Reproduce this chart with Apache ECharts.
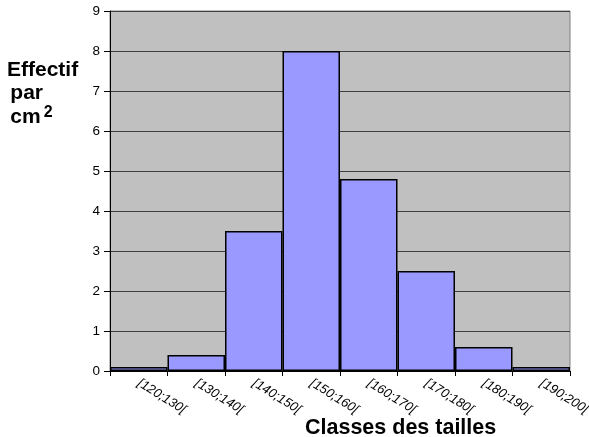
<!DOCTYPE html>
<html><head><meta charset="utf-8">
<script src="https://cdn.jsdelivr.net/npm/echarts@6/dist/echarts.min.js"></script>
<style>html,body{margin:0;padding:0;background:#fff}#c{width:589px;height:437px}</style>
</head><body><div id="c"></div>
<script>
const categories = ["[120;130[", "[130;140[", "[140;150[", "[150;160[", "[160;170[", "[170;180[", "[180;190[", "[190;200["];
const values = [0.1, 0.4, 3.5, 8, 4.8, 2.5, 0.6, 0.1];
const yTicks = [0, 1, 2, 3, 4, 5, 6, 7, 8, 9];
const xTitle = 'Classes des tailles';
const chart = echarts.init(document.getElementById('c'));
chart.setOption({
  animation: false,
  backgroundColor: '#fff',
  grid: {left: 110, right: 19, top: 11, bottom: 66, outerBoundsMode: 'none', containLabel: false, show: true, backgroundColor: '#C0C0C0', borderColor: '#808080', borderWidth: 1},
  xAxis: {
    type: 'category', data: categories,
    axisLine: {lineStyle: {color: '#000', width: 1}},
    axisTick: {show: true, alignWithLabel: false, length: 5, lineStyle: {color: '#000'}},
    axisLabel: {rotate: -32, interval: 0, color: '#000', fontFamily: 'Liberation Sans', fontSize: 13, fontStyle: 'italic', margin: 11, align: 'left'}
  },
  yAxis: {
    type: 'value', min: 0, max: yTicks[yTicks.length - 1], interval: 1,
    axisLine: {show: true, lineStyle: {color: '#000'}},
    axisTick: {show: true, length: 6, lineStyle: {color: '#000'}},
    axisLabel: {color: '#000', fontFamily: 'Liberation Sans', fontSize: 13.5, margin: 10},
    splitLine: {lineStyle: {color: '#404040', width: 1}}
  },
  graphic: [{
    type: 'text', left: 7, top: 60,
    style: {
      text: '{a|Effectif}\n {a|par}\n {a|cm}{s|2}',
      rich: {
        a: {fontFamily: 'Liberation Sans', fontWeight: 'bold', fontSize: 21, fill: '#000', lineHeight: 23},
        s: {fontFamily: 'Liberation Sans', fontWeight: 'bold', fontSize: 16, fill: '#000', verticalAlign: 'top', padding: [0, 0, 8, 3]}
      }
    }
  }, {
    type: 'text', left: 305, top: 417,
    style: {text: xTitle, fontFamily: 'Liberation Sans', fontWeight: 'bold', fontSize: 21.5, fill: '#000'}
  }],
  series: [{
    type: 'bar', data: values, barCategoryGap: 0,
    itemStyle: {color: '#9999FF', borderColor: '#000', borderWidth: 1.5}
  }]
});
</script></body></html>
